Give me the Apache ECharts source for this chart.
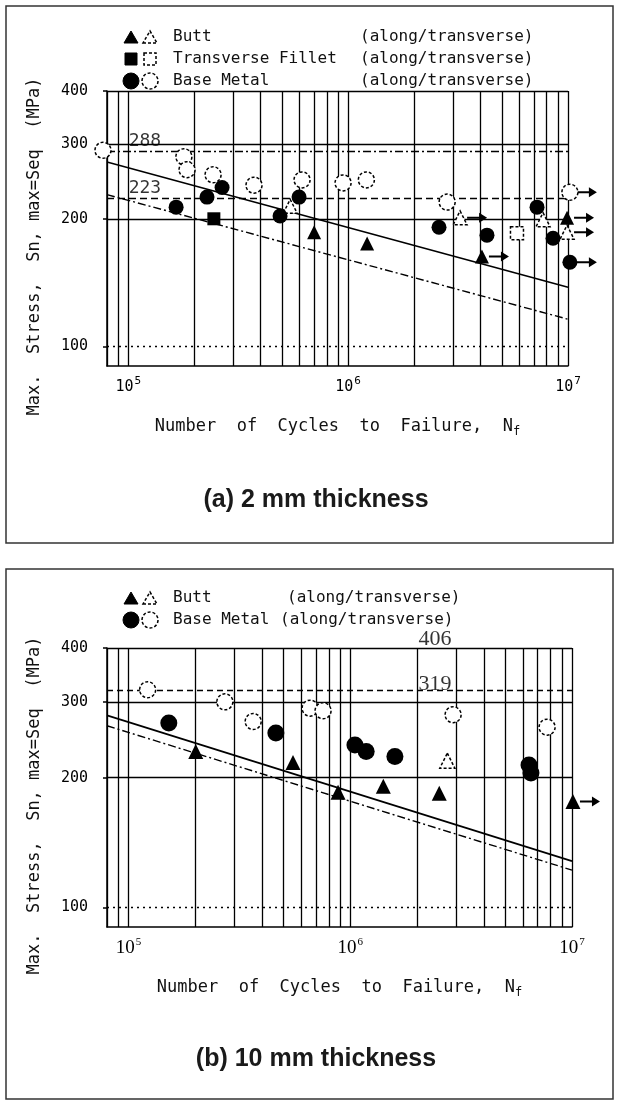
<!DOCTYPE html>
<html>
<head>
<meta charset="utf-8">
<script src="https://cdn.jsdelivr.net/npm/echarts@6/dist/echarts.min.js"></script>
<style>
  html, body { margin: 0; padding: 0; background: #fff; }
  #chart { width: 620px; height: 1102px; }
</style>
</head>
<body>
<div id="chart"></div>
<script>
// S-N curves, 2 mm and 10 mm thickness

// axis ticks
const xTicks = [1e5, 1e6, 1e7];
const yTicks = [100, 200, 300, 400];

// ---- (a) 2 mm thickness ----
const buttAlongA = [[700000, 186], [1220000, 175], [4060000, 163], [9900000, 201]];
const buttTransA = [[545000, 214], [3230000, 201], [7700000, 199], [9900000, 186]];
const filletAlongA = [[245000, 200]];
const filletTransA = [[5860000, 185]];
const baseAlongA = [[165000, 213], [228000, 225], [267000, 237], [490000, 203], [598000, 225],
                    [2590000, 191], [4280000, 183], [7230000, 213], [8550000, 180], [10200000, 158]];
const baseTransA = [[76700, 290], [179000, 280], [185000, 261], [243000, 254], [373000, 240],
                    [617000, 247], [948000, 243], [1210000, 247], [2820000, 219], [10200000, 231]];
const runoutA = [[10200000, 231], [10200000, 158], [9900000, 186], [9900000, 201], [3230000, 201], [4060000, 163]];
const fitSolidA = [[80000, 272], [10000000, 138]];
const fitDashA = [[80000, 228], [10000000, 116]];
const limitsA = [288, 223];
const limitLabelsA = [[119000, 288], [119000, 223]];

// ---- (b) 10 mm thickness ----
const buttAlongB = [[201000, 230], [552000, 217], [881000, 185], [1410000, 191], [2520000, 184], [10100000, 176]];
const buttTransB = [[2740000, 219]];
const baseAlongB = [[152000, 268], [462000, 254], [1050000, 238], [1180000, 230], [1590000, 224],
                    [6400000, 214], [6530000, 205]];
const baseTransB = [[122000, 320], [272000, 300], [365000, 270], [659000, 290], [754000, 286],
                    [2910000, 280], [7720000, 262]];
const runoutB = [[10100000, 176]];
const fitSolidB = [[80000, 279], [10000000, 128]];
const fitDashB = [[80000, 264], [10000000, 122]];
const limitsB = [406, 319];
const limitLabelsB = [[2410000, 406], [2410000, 319]];

const MONO = 'DejaVu Sans Mono';
const ARROW = 'path://M0,4L12,4L12,0L20,5L12,10L12,6L0,6Z';

function xAxisFor(gi, labelFont, labelSize) {
    return {
        type: 'log', gridIndex: gi, min: 80000, max: 10000000,
        name: 'Number  of  Cycles  to  Failure,  N{f|f}',
        nameLocation: 'middle', nameGap: 50,
        nameTextStyle: { fontFamily: MONO, fontSize: 17, color: '#111', rich: { f: { fontFamily: MONO, fontSize: 12, padding: [10, 0, 0, 0] } } },
        axisLine: { show: true, onZero: false, lineStyle: { color: '#000', width: 1.5 } },
        axisTick: { show: false },
        axisLabel: {
            customValues: xTicks, margin: 10, color: '#000',
            formatter: v => '{b|10}{s|' + Math.round(Math.log10(v)) + '}',
            rich: {
                b: { fontFamily: labelFont, fontSize: labelSize, color: '#000' },
                s: { fontFamily: labelFont, fontSize: 11, color: '#000', padding: [0, 0, 12, 1] }
            }
        },
        splitLine: { show: true, lineStyle: { color: '#000', width: 1.3 } },
        minorTick: { show: false, splitNumber: 9 },
        minorSplitLine: { show: true, lineStyle: { color: '#000', width: 1.3 } }
    };
}

function yAxisFor(gi) {
    return {
        type: 'log', gridIndex: gi, min: 90, max: 400,
        name: 'Max.  Stress,  Sn, max=Seq  (MPa)',
        nameLocation: 'middle', nameGap: 64,
        nameTextStyle: { fontFamily: MONO, fontSize: 17, color: '#111', padding: [0, 36, 0, 0] },
        axisLine: { show: true, lineStyle: { color: '#000', width: 1.5 } },
        axisTick: { show: true, customValues: yTicks, length: 4, lineStyle: { color: '#000', width: 1.5 } },
        axisLabel: { customValues: yTicks, fontFamily: MONO, fontSize: 15, color: '#000', margin: 19 },
        splitLine: { show: false }
    };
}

function hLine(v, type) {
    return { yAxis: v, lineStyle: { color: '#000', width: 1.4, type: type } };
}

function points(gi, data, symbol, size, filled) {
    return {
        type: 'scatter', xAxisIndex: gi, yAxisIndex: gi, data: data,
        symbol: symbol, symbolSize: size, clip: false, z: 5, silent: true,
        itemStyle: filled
            ? { color: '#000', opacity: 1 }
            : { color: '#fff', borderColor: '#000', borderWidth: 1.5, borderType: [3, 2], opacity: 1 }
    };
}

function runouts(gi, data) {
    return {
        type: 'scatter', xAxisIndex: gi, yAxisIndex: gi, data: data,
        symbol: ARROW, symbolSize: [20, 10], symbolOffset: [17, 0],
        clip: false, z: 4, silent: true, itemStyle: { color: '#000', opacity: 1 }
    };
}

function fitLines(gi, solid, dash, hRefs) {
    return [{
        type: 'line', xAxisIndex: gi, yAxisIndex: gi, data: solid, symbol: 'none', silent: true, z: 3,
        lineStyle: { color: '#000', width: 1.6 },
        markLine: {
            silent: true, symbol: ['none', 'none'], label: { show: false },
            data: hRefs
        }
    }, {
        type: 'line', xAxisIndex: gi, yAxisIndex: gi, data: dash, symbol: 'none', silent: true, z: 3,
        lineStyle: { color: '#000', width: 1.4, type: [8, 3, 2, 3] }
    }];
}

function limitLabels(gi, data, font, size, dist) {
    return {
        type: 'scatter', xAxisIndex: gi, yAxisIndex: gi, data: data, clip: false,
        symbolSize: 0.1, itemStyle: { color: 'transparent' }, silent: true, z: 6,
        label: {
            show: true, position: 'top', distance: dist,
            formatter: p => String(p.value[1]),
            fontFamily: font, fontSize: size, color: '#000'
        }
    };
}

const hRefsA = [hLine(100, [2, 4]), hLine(200, 'solid'), hLine(300, 'solid'), hLine(400, 'solid'),
                hLine(limitsA[0], [8, 3, 2, 3]), hLine(limitsA[1], [7, 4])];
const hRefsB = [hLine(100, [2, 4]), hLine(200, 'solid'), hLine(300, 'solid'), hLine(400, 'solid'),
                hLine(limitsB[1], [6, 4])];

// legend drawn as graphic (two symbols per row)
function legendRow(x0, y, shape, label, alongX) {
    const items = [];
    const fillStyle = { fill: '#000', stroke: '#000', lineWidth: 1 };
    const openStyle = { fill: '#fff', stroke: '#000', lineWidth: 1.5, lineDash: [3, 2] };
    [0, 1].forEach(k => {
        const cx = x0 + k * 19;
        const st = k === 0 ? fillStyle : openStyle;
        if (shape === 'triangle') {
            items.push({ type: 'polygon', shape: { points: [[cx - 7, y + 6], [cx + 7, y + 6], [cx, y - 6]] }, style: st });
        } else if (shape === 'rect') {
            items.push({ type: 'rect', shape: { x: cx - 6, y: y - 6, width: 12, height: 12 }, style: st });
        } else {
            items.push({ type: 'circle', shape: { cx: cx, cy: y, r: 8 }, style: st });
        }
    });
    items.push({ type: 'text', x: 173, y: y, style: { text: label, font: '16px "DejaVu Sans Mono"', fill: '#111', verticalAlign: 'middle' } });
    items.push({ type: 'text', x: alongX, y: y, style: { text: '(along/transverse)', font: '16px "DejaVu Sans Mono"', fill: '#111', verticalAlign: 'middle' } });
    return items;
}

const graphics = [
    { type: 'rect', shape: { x: 6, y: 6, width: 607, height: 537 }, style: { fill: null, stroke: '#333', lineWidth: 1.5 }, silent: true },
    { type: 'rect', shape: { x: 6, y: 569, width: 607, height: 530 }, style: { fill: null, stroke: '#333', lineWidth: 1.5 }, silent: true },
    { type: 'text', x: 316, y: 500, style: { text: '(a) 2 mm thickness', font: 'bold 25px "Liberation Sans"', fill: '#1a1a1a', align: 'center', verticalAlign: 'middle' } },
    { type: 'text', x: 316, y: 1059, style: { text: '(b) 10 mm thickness', font: 'bold 25px "Liberation Sans"', fill: '#1a1a1a', align: 'center', verticalAlign: 'middle' } }
]
    .concat(legendRow(131, 37, 'triangle', 'Butt', 360))
    .concat(legendRow(131, 59, 'rect', 'Transverse Fillet', 360))
    .concat(legendRow(131, 81, 'circle', 'Base Metal', 360))
    .concat(legendRow(131, 598, 'triangle', 'Butt', 287))
    .concat(legendRow(131, 620, 'circle', 'Base Metal', 280));

const option = {
    animation: false,
    backgroundColor: '#fff',
    grid: [
        { left: 107, top: 91, width: 461, height: 275 },
        { left: 107, top: 648, width: 465, height: 279 }
    ],
    xAxis: [xAxisFor(0, MONO, 15), xAxisFor(1, 'Liberation Serif', 19)],
    yAxis: [yAxisFor(0), yAxisFor(1)],
    graphic: graphics,
    series: [].concat(
        fitLines(0, fitSolidA, fitDashA, hRefsA),
        [
            limitLabels(0, limitLabelsA, MONO, 18, 1),
            runouts(0, runoutA),
            points(0, buttAlongA, 'triangle', 14, true),
            points(0, buttTransA, 'triangle', 14, false),
            points(0, filletAlongA, 'rect', 13, true),
            points(0, filletTransA, 'rect', 13, false),
            points(0, baseAlongA, 'circle', 15, true),
            points(0, baseTransA, 'circle', 16, false)
        ],
        fitLines(1, fitSolidB, fitDashB, hRefsB),
        [
            limitLabels(1, limitLabelsB, 'Liberation Serif', 22, -5),
            runouts(1, runoutB),
            points(1, buttAlongB, 'triangle', 15, true),
            points(1, buttTransB, 'triangle', 15, false),
            points(1, baseAlongB, 'circle', 17, true),
            points(1, baseTransB, 'circle', 16, false)
        ]
    )
};

const chart = echarts.init(document.getElementById('chart'));
chart.setOption(option);
</script>
</body>
</html>
